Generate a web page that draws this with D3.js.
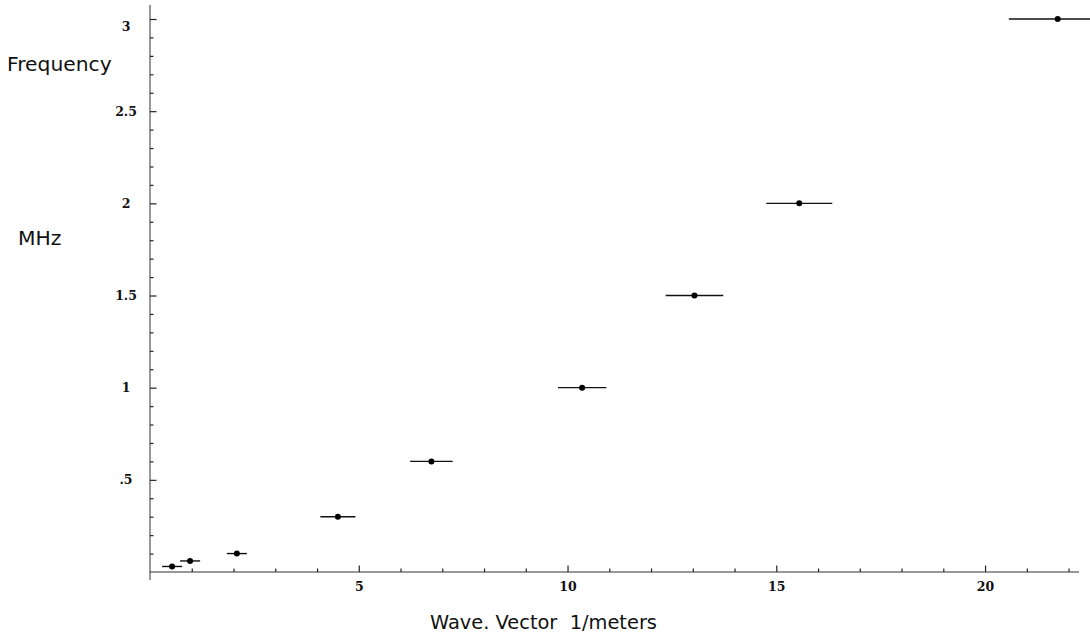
<!DOCTYPE html>
<html>
<head>
<meta charset="utf-8">
<script src="https://cdn.jsdelivr.net/npm/d3@7"></script>
<style>
  html, body { margin: 0; padding: 0; background: #fff; }
  svg { display: block; }
  .tick text { font-family: "DejaVu Serif", "Liberation Serif", serif; font-weight: bold; font-size: 12.5px; fill: #111; }
  .title { font-family: "DejaVu Sans", Verdana, sans-serif; font-size: 20.3px; fill: #111; white-space: pre; }
  .title.x { font-size: 19.4px; }
</style>
</head>
<body>
<svg id="chart" width="1090" height="634"></svg>
<script>
// Data: wave vector (1/m), frequency (MHz), horizontal error half-width (1/m)
const waveVector = [0.53, 0.96, 2.08, 4.50, 6.74, 10.35, 13.04, 15.55, 21.74];
const frequency  = [0.03, 0.06, 0.10, 0.30, 0.60, 1.00, 1.50, 2.00, 3.00];
const xError     = [0.24, 0.24, 0.24, 0.42, 0.51, 0.58, 0.69, 0.79, 1.17];

const xMajorTicks = [5, 10, 15, 20];
const xTickLabels = ["5", "10", "15", "20"];
const yMajorTicks = [0.5, 1, 1.5, 2, 2.5, 3];
const yTickLabels = [".5", "1", "1.5", "2", "2.5", "3"];

const xTitle = "Wave. Vector  1/meters";
const yTitle1 = "Frequency";
const yTitle2 = "MHz";

const svg = d3.select("#chart");
const x = d3.scaleLinear().domain([0, 22.25]).range([150, 1079]);
const y = d3.scaleLinear().domain([0, 3.076]).range([572, 5]);

const data = waveVector.map((v, i) => ({ x: v, y: frequency[i], e: xError[i] }));

// minor x ticks
const xMinor = d3.range(1, 23).filter(v => v % 5 !== 0);
svg.append("g").attr("transform", `translate(0,${y(0)})`)
  .call(d3.axisBottom(x).tickValues(xMinor).tickSize(-3.5).tickFormat(""))
  .call(g => g.select(".domain").remove())
  .call(g => g.selectAll("line").attr("stroke", "#222").attr("stroke-width", 1.2));

// major x axis
svg.append("g").attr("transform", `translate(0,${y(0)})`)
  .call(d3.axisBottom(x).tickValues(xMajorTicks).tickSize(-6.5).tickPadding(10)
    .tickFormat((d, i) => xTickLabels[i]))
  .call(g => g.select(".domain").attr("d", `M${x(0)},0H${x.range()[1]}`).attr("stroke", "#333"))
  .call(g => g.selectAll("line").attr("stroke", "#222").attr("stroke-width", 1.2))
  .call(g => g.selectAll("text").attr("y", 10).attr("dy", "0.71em"));

// minor y ticks
const yMinor = d3.range(1, 31).map(v => v / 10).filter(v => Math.round(v * 10) % 5 !== 0);
svg.append("g").attr("transform", `translate(${x(0)},0)`)
  .call(d3.axisLeft(y).tickValues(yMinor).tickSize(-3.5).tickFormat(""))
  .call(g => g.select(".domain").remove())
  .call(g => g.selectAll("line").attr("stroke", "#222").attr("stroke-width", 1.2));

// major y axis
svg.append("g").attr("transform", `translate(${x(0)},0)`)
  .call(d3.axisLeft(y).tickValues(yMajorTicks).tickSize(-6.5).tickPadding(0)
    .tickFormat((d, i) => yTickLabels[i]))
  .call(g => g.select(".domain").attr("d", `M0,${y.range()[1]}V${y(0) + 8}`).attr("stroke", "#333"))
  .call(g => g.selectAll("line").attr("stroke", "#222").attr("stroke-width", 1.2))
  .call(g => g.selectAll("text").attr("text-anchor", "middle").attr("x", -24)
    .attr("dy", d => d === 3 ? "0.9em" : "0.32em"));

// error bars
svg.append("g").selectAll("line").data(data).join("line")
  .attr("x1", d => x(d.x - d.e)).attr("x2", d => x(d.x + d.e))
  .attr("y1", d => y(d.y)).attr("y2", d => y(d.y))
  .attr("stroke", "#111").attr("stroke-width", 1.4);

// points
svg.append("g").selectAll("circle").data(data).join("circle")
  .attr("cx", d => x(d.x)).attr("cy", d => y(d.y)).attr("r", 3)
  .attr("fill", "#000");

// titles
svg.append("text").attr("class", "title").attr("x", 7).attr("y", 71).text(yTitle1);
svg.append("text").attr("class", "title").attr("x", 18).attr("y", 245).text(yTitle2);
svg.append("text").attr("class", "title x").attr("x", 430).attr("y", 629).text(xTitle);
</script>
</body>
</html>
